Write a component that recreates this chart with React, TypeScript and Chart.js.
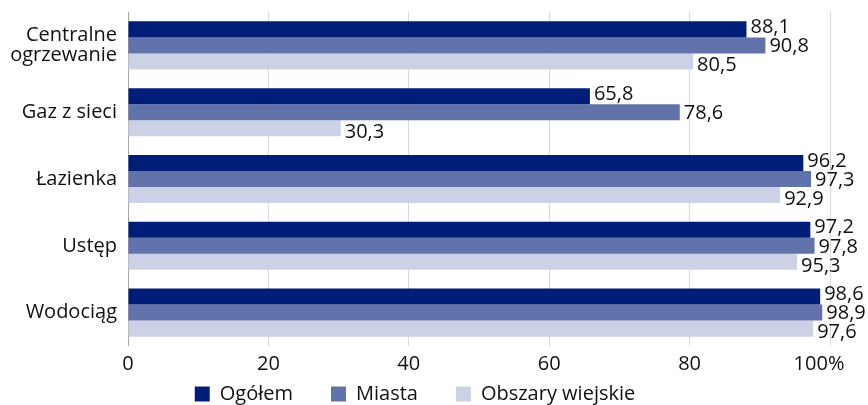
import React, { useEffect, useRef } from "react";
import { Chart, registerables } from "chart.js";

Chart.register(...registerables);

const categories: (string | string[])[] = [
  ["Centralne", "ogrzewanie"],
  "Gaz z sieci",
  "Łazienka",
  "Ustęp",
  "Wodociąg",
];
const seriesNames = ["Ogółem", "Miasta", "Obszary wiejskie"];
const ogolem = [88.1, 65.8, 96.2, 97.2, 98.6];
const miasta = [90.8, 78.6, 97.3, 97.8, 98.9];
const wies = [80.5, 30.3, 92.9, 95.3, 97.6];
const xTicks = [0, 20, 40, 60, 80, 100];
const colors = ["#001e78", "#6272ab", "#ccd2e5"];

const FONT = "'Open Sans', 'Noto Sans', sans-serif";
const X_AXIS_H = 30;

const valueLabels = {
  id: "valueLabels",
  afterDatasetsDraw(chart: any) {
    const ctx = chart.ctx;
    ctx.save();
    ctx.font = `20px ${FONT}`;
    ctx.fillStyle = "#111";
    ctx.textAlign = "left";
    ctx.textBaseline = "middle";
    chart.data.datasets.forEach((ds: any, di: number) => {
      const meta = chart.getDatasetMeta(di);
      const dy = 1 + (di - 1) * 3;
      meta.data.forEach((el: any, i: number) => {
        const v = ds.data[i] as number;
        const txt = v.toFixed(1).replace(".", ",");
        ctx.fillText(txt, el.x + 4, el.y + dy);
      });
    });
    ctx.restore();
  },
};

// legend sits right under the plot (the x tick labels overlap its padding area)
const layoutTweaks = {
  id: "layoutTweaks",
  afterLayout(chart: any) {
    const lg = chart.legend;
    if (lg) {
      lg.top -= X_AXIS_H;
      lg.bottom -= X_AXIS_H;
    }
  },
  beforeDraw(chart: any) {
    const xs = chart.scales.x;
    const items = xs.getLabelItems();
    const last = items[items.length - 1];
    if (last && !last._shifted) {
      last.options.translation[0] -= 11;
      last._shifted = true;
    }
  },
};

export default function App() {
  const ref = useRef<HTMLCanvasElement | null>(null);
  useEffect(() => {
    if (!ref.current) return;
    Chart.defaults.font.family = FONT;
    Chart.defaults.font.size = 20;
    Chart.defaults.color = "#111";
    const chart = new Chart(ref.current, {
      type: "bar",
      data: {
        labels: categories,
        datasets: [ogolem, miasta, wies].map((d, i) => ({
          label: seriesNames[i],
          data: d,
          backgroundColor: colors[i],
          borderWidth: 0,
          categoryPercentage: 0.72,
          barPercentage: 1,
        })),
      },
      options: {
        indexAxis: "y",
        animation: false,
        responsive: false,
        maintainAspectRatio: false,
        layout: { padding: { top: 12, right: 38, bottom: -39, left: 0 } },
        scales: {
          x: {
            min: 0,
            max: 100,
            afterBuildTicks: (s: any) => {
              s.ticks = xTicks.map((v) => ({ value: v }));
            },
            afterFit: (s: any) => {
              s.height = X_AXIS_H;
            },
            ticks: {
              padding: 6,
              callback: (v: any) => (Number(v) === 100 ? "100%" : String(v)),
              font: { size: 20 },
              color: "#111",
            },
            grid: {
              drawTicks: false,
              color: (c: any) => (c.tick && c.tick.value === 0 ? "#a6a6a6" : "#d9d9d9"),
              lineWidth: 1,
            },
            border: { display: false },
          },
          y: {
            afterFit: (s: any) => {
              s.width = 128;
              s.paddingTop = 0;
              s.paddingBottom = 0;
            },
            ticks: {
              padding: 11,
              font: { size: 20, lineHeight: 1.0 },
              color: "#111",
            },
            grid: { display: false, drawTicks: false },
            border: { display: false },
          },
        },
        plugins: {
          legend: {
            position: "bottom",
            labels: {
              boxWidth: 15,
              boxHeight: 15,
              padding: 38,
              color: "#111",
              font: { size: 20 },
            },
          },
          tooltip: { enabled: false },
        },
      },
      plugins: [valueLabels, layoutTweaks],
    });
    return () => chart.destroy();
  }, []);
  return (
    <div style={{ position: "fixed", left: 0, top: 0, width: 868, height: 405, background: "#fff" }}>
      <canvas ref={ref} width={868} height={405} style={{ display: "block" }} />
    </div>
  );
}
